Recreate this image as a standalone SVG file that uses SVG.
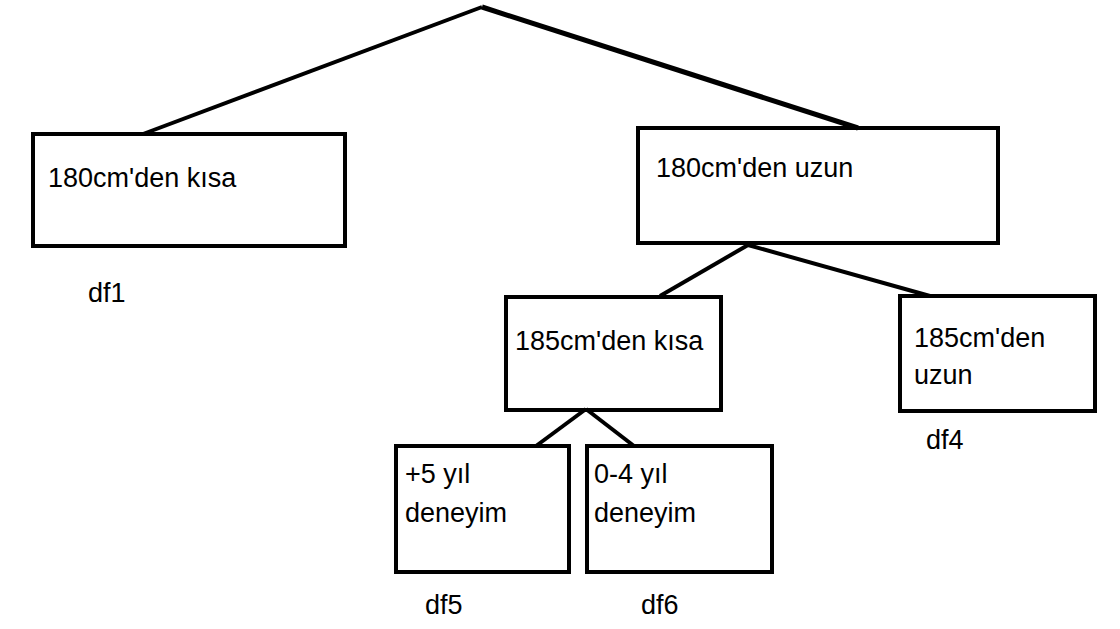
<svg xmlns="http://www.w3.org/2000/svg" width="1120" height="629" viewBox="0 0 1120 629">
<style>
.box{fill:none;stroke:#000;stroke-width:4}
.ln{stroke:#000;stroke-width:4;fill:none}
text{font-family:"Liberation Sans",Arial,sans-serif;font-size:27px;fill:#000}
</style>
<rect width="1120" height="629" fill="#fff"/>
<g id="connectors">
<line class="ln" x1="482" y1="7" x2="143" y2="134"/>
<line class="ln" x1="482" y1="7" x2="858" y2="128" style="stroke-width:5"/>
<line class="ln" x1="748" y1="245" x2="660" y2="296"/>
<line class="ln" x1="748" y1="245" x2="930" y2="296"/>
<line class="ln" x1="586" y1="409" x2="536" y2="446"/>
<line class="ln" x1="586" y1="409" x2="634" y2="446"/>
</g>
<g id="n1"><rect class="box" x="33" y="134" width="312" height="112"/><text x="48" y="187">180cm'den kısa</text></g>
<g id="df1"><text x="88" y="302">df1</text></g>
<g id="n2"><rect class="box" x="638" y="128" width="360" height="115"/><text x="656" y="177">180cm'den uzun</text></g>
<g id="n3"><rect class="box" x="506" y="297" width="215" height="113"/><text x="515" y="350">185cm'den kısa</text></g>
<g id="n4"><rect class="box" x="900" y="296" width="195" height="115"/><text x="914" y="347">185cm'den</text><text x="914" y="384">uzun</text></g>
<g id="df4"><text x="926" y="449">df4</text></g>
<g id="n5"><rect class="box" x="396" y="446" width="173" height="126"/><text x="405" y="483">+5 yıl</text><text x="405" y="522">deneyim</text></g>
<g id="n6"><rect class="box" x="587" y="446" width="185" height="126"/><text x="594" y="483">0-4 yıl</text><text x="594" y="522">deneyim</text></g>
<g id="df5"><text x="425" y="614">df5</text></g>
<g id="df6"><text x="641" y="614">df6</text></g>
</svg>
